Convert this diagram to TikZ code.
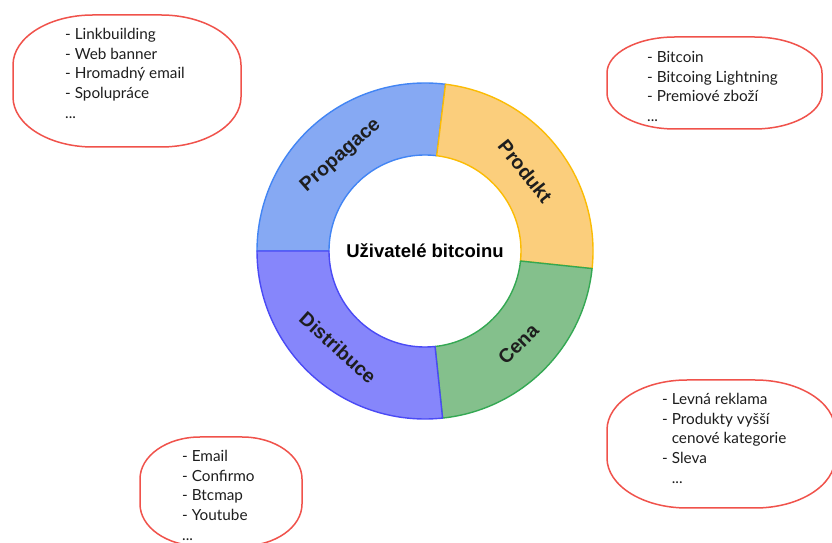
\documentclass[tikz,border=0pt]{standalone}
\usepackage{fontspec}
\newfontfamily\labfont{Liberation Sans}
\newfontfamily\boxfont{Lato}
\definecolor{propfill}{HTML}{86A9F3}
\definecolor{propline}{HTML}{4285F4}
\definecolor{prodfill}{HTML}{FBCE7C}
\definecolor{prodline}{HTML}{FBBC04}
\definecolor{cenafill}{HTML}{84C08C}
\definecolor{cenaline}{HTML}{34A853}
\definecolor{distfill}{HTML}{8686FB}
\definecolor{distline}{HTML}{4A4AF5}
\definecolor{bubbleline}{HTML}{F0524B}
\definecolor{txt}{HTML}{1E1E1E}
\newcommand{\ovalbox}[7]{\draw[#7] ({#1+#5},#2) -- ({#3-#5},#2)
  arc[start angle=-90,end angle=0,x radius=#5,y radius=#6] -- (#3,{#4-#6})
  arc[start angle=0,end angle=90,x radius=#5,y radius=#6] -- ({#1+#5},#4)
  arc[start angle=90,end angle=180,x radius=#5,y radius=#6] -- (#1,{#2+#6})
  arc[start angle=180,end angle=270,x radius=#5,y radius=#6] -- cycle;}
\newcommand{\ringseg}[3]{\draw[#3] ([shift={(#1:168)}]C)
  arc[start angle=#1,end angle=#2,radius=168] -- ([shift={(#2:96)}]C)
  arc[start angle=#2,end angle=#1,radius=96] -- cycle;}
\begin{document}
\begin{tikzpicture}[x=1pt,y=1pt,
  seg/.style={line width=1.4pt, line join=round},
  ringlabel/.style={font=\labfont\bfseries\fontsize{19.5}{22}\selectfont, text=txt, inner sep=0pt},
  centerlabel/.style={font=\labfont\bfseries\fontsize{18.5}{22}\selectfont, text=black, inner sep=0pt},
  bubble/.style={draw=bubbleline, line width=1.5pt},
  listtext/.style={font=\boxfont\fontsize{15.3}{19.7}\selectfont, text=txt, align=left, inner sep=0pt, anchor=north west}]
\useasboundingbox (0,0) rectangle (832,543);
\fill[white] (0,0) rectangle (832,543);
\coordinate (C) at (425,292);
\ringseg{83}{180}{seg, fill=propfill, draw=propline}
\ringseg{-6}{83}{seg, fill=prodfill, draw=prodline}
\ringseg{-84}{-6}{seg, fill=cenafill, draw=cenaline}
\ringseg{180}{276}{seg, fill=distfill, draw=distline}
\node[ringlabel, rotate=41.5] (lprop) at ([shift={(131.5:127)}]C) {Propagace};
\node[ringlabel, rotate=-51.5] (lprod) at ([shift={(38.5:128)}]C) {Produkt};
\node[ringlabel, rotate=45] (lcena) at ([shift={(-45:132)}]C) {Cena};
\node[ringlabel, rotate=-42] (ldist) at ([shift={(228:130)}]C) {Distribuce};
\node[centerlabel] (center) at (C) {Uživatelé bitcoinu};
% bubbles
\ovalbox{13}{396}{241}{528}{80}{50}{bubble}
\ovalbox{607}{414}{822}{506}{68}{36}{bubble}
\ovalbox{607}{35}{835}{163}{80}{50}{bubble}
\ovalbox{140}{-3}{302}{106}{60}{42}{bubble}
\node[listtext] (t1) at (65,515) {- Linkbuilding\\- Web banner\\- Hromadný email\\- Spolupráce\\...};
\node[listtext] (t2) at (647,492) {- Bitcoin\\- Bitcoing Lightning\\- Premiové zboží\\...};
\node[listtext] (t3) at (662,150) {- Levná reklama\\- Produkty vyšší\\\phantom{- }cenové kategorie\\- Sleva\\\phantom{- }...};
\node[listtext] (t4) at (182,93) {- Email\\- Confirmo\\- Btcmap\\- Youtube\\...};
\end{tikzpicture}
\end{document}
